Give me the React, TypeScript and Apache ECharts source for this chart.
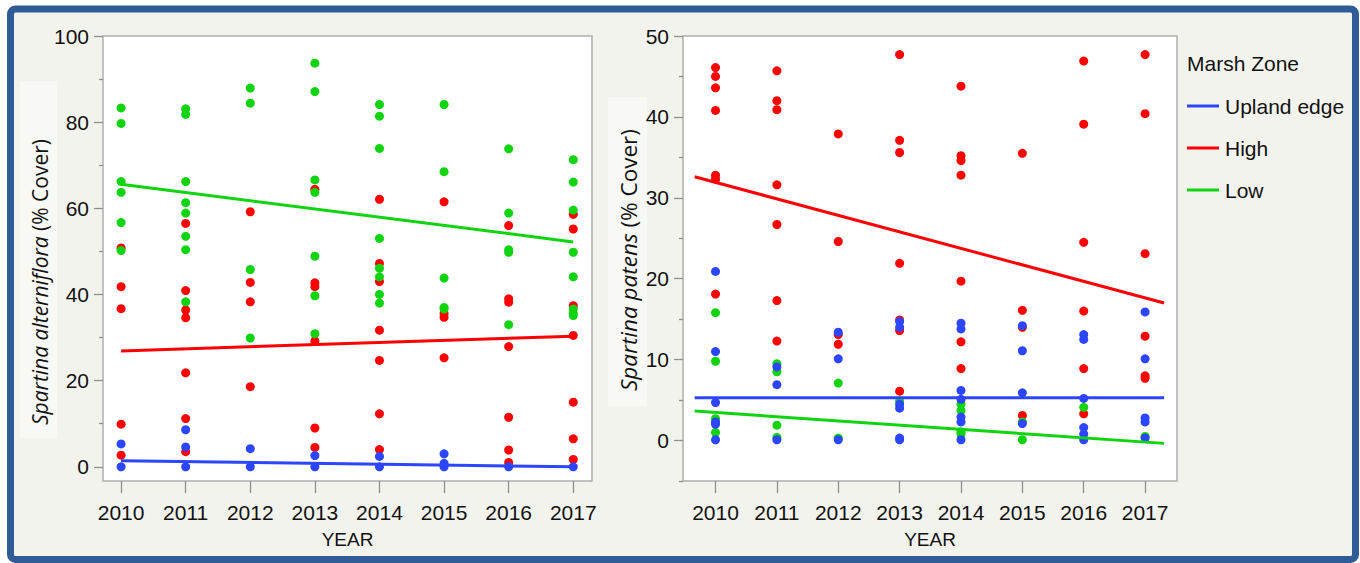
import React, { useEffect, useRef } from "react";
import * as echarts from "echarts";

const YEARS = [2010, 2011, 2012, 2013, 2014, 2015, 2016, 2017];

// Spartina alterniflora (% Cover), values per year
const ALT_LOW = [
  [83.3, 79.7, 66.2, 63.7, 56.7, 50.2],
  [83.1, 81.8, 66.2, 61.3, 58.9, 53.5, 50.4, 38.3],
  [87.9, 84.4, 45.8, 29.9],
  [93.7, 87.1, 66.6, 63.7, 48.9, 39.7, 30.9],
  [84.1, 81.4, 73.9, 53.0, 46.1, 44.1, 40.0, 38.0],
  [84.1, 68.5, 43.8, 37.0, 36.6],
  [73.8, 58.9, 50.4, 49.8, 33.0],
  [71.3, 66.1, 59.6, 49.8, 44.1, 36.6, 35.6, 35.1],
];
const ALT_HIGH = [
  [50.8, 41.8, 36.7, 9.9, 2.7],
  [56.5, 40.9, 36.4, 34.6, 21.8, 11.2, 3.5],
  [59.2, 42.8, 38.3, 18.6],
  [64.4, 42.7, 41.8, 29.2, 9.0, 4.5],
  [62.1, 47.2, 43.0, 31.7, 24.7, 12.3, 4.0],
  [61.5, 35.6, 34.7, 25.3],
  [56.0, 39.0, 38.2, 27.9, 11.5, 3.9, 1.0],
  [58.6, 55.2, 37.4, 30.5, 15.0, 6.5, 1.7],
];
const ALT_UPLAND = [
  [5.3, 0],
  [8.6, 4.6, 0],
  [4.2, 0],
  [2.6, 0],
  [2.4, 0],
  [3.0, 0.8, 0],
  [0],
  [0],
];

// Spartina patens (% Cover), values per year
const PAT_HIGH = [
  [46.1, 45.0, 43.6, 40.8, 32.8, 32.3, 18.1],
  [45.7, 42.0, 40.9, 31.6, 26.7, 17.3, 12.3],
  [37.9, 24.6, 13.1, 11.9],
  [47.7, 37.1, 35.6, 21.9, 14.9, 13.6, 6.1],
  [43.8, 35.2, 34.6, 32.8, 19.7, 12.2, 8.9],
  [35.5, 16.1, 14.0, 3.1],
  [46.9, 39.1, 24.5, 16.0, 8.9, 3.3],
  [47.7, 40.4, 23.1, 12.9, 8.0, 7.7],
];
const PAT_UPLAND = [
  [20.9, 11.0, 4.7, 2.3, 2.0, 0.1],
  [9.1, 6.9, 0.1],
  [13.4, 10.1, 0.1],
  [14.7, 14.0, 4.5, 4.0, 0.3, 0.1],
  [14.5, 13.8, 6.2, 5.1, 2.9, 2.3, 0.1],
  [14.2, 11.1, 5.9, 2.1],
  [13.1, 12.5, 5.2, 1.6, 0.8, 0.1],
  [15.9, 10.1, 2.8, 2.3, 0.3],
];
const PAT_LOW = [
  [15.8, 9.8, 2.7, 1.0],
  [9.5, 8.5, 1.9, 0.4],
  [7.1, 0.3],
  [4.9],
  [4.5, 3.7, 1.1, 0.8],
  [2.3, 0.1],
  [4.1],
  [0.5],
];

// Fitted regression lines: [year, value] endpoints
const ALT_FIT_UPLAND = [[2010, 1.4], [2017, 0.0]];
const ALT_FIT_HIGH = [[2010, 26.9], [2017, 30.3]];
const ALT_FIT_LOW = [[2010, 65.6], [2017, 52.2]];
const PAT_FIT_UPLAND = [[2009.66, 5.3], [2017.31, 5.3]];
const PAT_FIT_HIGH = [[2009.66, 32.6], [2017.31, 17.0]];
const PAT_FIT_LOW = [[2009.66, 3.65], [2017.31, -0.35]];

const ALT_Y_LABELS = [0, 20, 40, 60, 80, 100];
const ALT_Y_MINOR = [10, 30, 50, 70, 90];
const PAT_Y_LABELS = [0, 10, 20, 30, 40, 50];
const PAT_Y_MINOR = [-5, 5, 15, 25, 35, 45];

const ZONES = ["Upland edge", "High", "Low"];

const BLUE = "#2c45ff";
const RED = "#ff0000";
const GREEN = "#0fd40f";

function toPoints(byYear: number[][]) {
  return byYear.flatMap((vals, i) => vals.map((v) => [YEARS[i], v]));
}

const SANS = "'Liberation Sans', Arial, sans-serif";
const TITLE_FONT = "'Open Sans', sans-serif";

export default function App() {
  const ref = useRef<HTMLDivElement>(null);
  useEffect(() => {
    document.body.style.margin = "0";
    const chart = echarts.init(ref.current!, undefined, { renderer: "svg" });

    const xAxisBase = (gridIndex: number, min: number, max: number) => ({
      type: "value",
      gridIndex,
      min,
      max,
      name: "YEAR",
      nameLocation: "middle",
      nameGap: 58,
      nameTextStyle: { fontFamily: SANS, fontSize: 19, color: "#111", verticalAlign: "middle" },
      axisLine: { show: false, onZero: false },
      axisTick: { show: true, length: 12, lineStyle: { color: "#8f8f8f", width: 1.3 }, customValues: YEARS },
      axisLabel: {
        customValues: YEARS,
        formatter: (v: number) => String(Math.round(v)),
        fontFamily: SANS,
        fontSize: 21,
        color: "#111",
        margin: 21,
      },
      splitLine: { show: false },
    });

    const yMajor = (gridIndex: number, min: number, max: number, labels: number[]) => ({
      type: "value",
      gridIndex,
      min,
      max,
      position: "left",
      axisLine: { show: false, onZero: false },
      axisTick: { show: true, length: 9, lineStyle: { color: "#8f8f8f", width: 1.3 }, customValues: labels },
      axisLabel: {
        customValues: labels,
        fontFamily: SANS,
        fontSize: 21,
        color: "#111",
        margin: 14,
      },
      splitLine: { show: false },
    });
    const yMinor = (gridIndex: number, min: number, max: number, ticks: number[]) => ({
      type: "value",
      gridIndex,
      min,
      max,
      position: "left",
      axisLine: { show: false, onZero: false },
      axisTick: { show: true, length: 4, lineStyle: { color: "#8f8f8f", width: 1.3 }, customValues: ticks },
      axisLabel: { show: false },
      splitLine: { show: false },
    });

    const scatter = (name: string, data: number[][], color: string, xi: number, yi: number) => ({
      type: "scatter",
      name,
      xAxisIndex: xi,
      yAxisIndex: yi,
      data,
      symbol: "circle",
      symbolSize: 9,
      itemStyle: { color, opacity: 1 },
      z: 2,
    });
    const fit = (name: string, data: number[][], color: string, xi: number, yi: number) => ({
      type: "line",
      name,
      xAxisIndex: xi,
      yAxisIndex: yi,
      data,
      symbol: "none",
      lineStyle: { color, width: 3 },
      z: 3,
    });

    const legendItems = [
      { label: ZONES[0], color: BLUE, y: 106 },
      { label: ZONES[1], color: RED, y: 148 },
      { label: ZONES[2], color: GREEN, y: 190 },
    ];

    const titleText = (text: string, x: number, y: number, size: number) => ({
      type: "text",
      x,
      y,
      rotation: Math.PI / 2,
      style: {
        text,
        fontFamily: TITLE_FONT,
        fontSize: size,
        fill: "#111",
        align: "left",
        verticalAlign: "middle",
        rich: {
          i: { fontStyle: "italic", fontFamily: TITLE_FONT, fontSize: size, fill: "#111" },
          n: { fontFamily: TITLE_FONT, fontSize: size, fill: "#111" },
        },
      },
    });

    const option: any = {
      animation: false,
      backgroundColor: "transparent",
      grid: [
        { left: 103, top: 36, width: 489, height: 445, show: true, backgroundColor: "#ffffff", borderColor: "#aeaeae", borderWidth: 1.5 },
        { left: 683, top: 36, width: 494, height: 445, show: true, backgroundColor: "#ffffff", borderColor: "#aeaeae", borderWidth: 1.5 },
      ],
      xAxis: [xAxisBase(0, 2009.72, 2017.29), xAxisBase(1, 2009.47, 2017.52)],
      yAxis: [
        yMajor(0, -3.3, 100, ALT_Y_LABELS),
        yMinor(0, -3.3, 100, ALT_Y_MINOR),
        yMajor(1, -5, 50, PAT_Y_LABELS),
        yMinor(1, -5, 50, PAT_Y_MINOR),
      ],
      series: [
        scatter("High", toPoints(ALT_HIGH), RED, 0, 0),
        scatter("Low", toPoints(ALT_LOW), GREEN, 0, 0),
        scatter("Upland edge", toPoints(ALT_UPLAND), BLUE, 0, 0),
        fit("High fit", ALT_FIT_HIGH, RED, 0, 0),
        fit("Low fit", ALT_FIT_LOW, GREEN, 0, 0),
        fit("Upland edge fit", ALT_FIT_UPLAND, BLUE, 0, 0),
        scatter("High", toPoints(PAT_HIGH), RED, 1, 2),
        scatter("Low", toPoints(PAT_LOW), GREEN, 1, 2),
        scatter("Upland edge", toPoints(PAT_UPLAND), BLUE, 1, 2),
        fit("High fit", PAT_FIT_HIGH, RED, 1, 2),
        fit("Low fit", PAT_FIT_LOW, GREEN, 1, 2),
        fit("Upland edge fit", PAT_FIT_UPLAND, BLUE, 1, 2),
      ],
      graphic: [
        {
          type: "rect",
          z: -100,
          silent: true,
          shape: { x: 10.5, y: 9, width: 1345, height: 550.5, r: 5 },
          style: { fill: "#f3f3ee", stroke: "#2f5b97", lineWidth: 7 },
        },
        {
          type: "rect",
          z: -90,
          silent: true,
          shape: { x: 20, y: 81, width: 37, height: 357 },
          style: { fill: "#f8f8f5" },
        },
        {
          type: "rect",
          z: -90,
          silent: true,
          shape: { x: 608, y: 97, width: 39, height: 309 },
          style: { fill: "#f8f8f5" },
        },
        titleText("{i|Spartina alterniflora}{n| (% Cover)}", 40, 425, 21),
        titleText("{i|Spartina patens}{n| (% Cover)}", 628, 391, 22.5),
        {
          type: "text",
          x: 1187,
          y: 63,
          style: { text: "Marsh Zone", fontFamily: SANS, fontSize: 21, fill: "#111", verticalAlign: "middle" },
        },
        ...legendItems.flatMap((it) => [
          {
            type: "line",
            shape: { x1: 1187, y1: it.y, x2: 1219, y2: it.y },
            style: { stroke: it.color, lineWidth: 3 },
          },
          {
            type: "text",
            x: 1225,
            y: it.y,
            style: { text: it.label, fontFamily: SANS, fontSize: 21, fill: "#111", verticalAlign: "middle" },
          },
        ]),
      ],
    };
    chart.setOption(option);
    return () => chart.dispose();
  }, []);
  return <div ref={ref} style={{ width: 1360, height: 563 }} />;
}
